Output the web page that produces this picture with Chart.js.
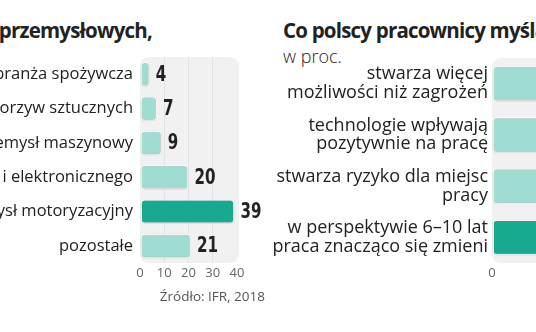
<!DOCTYPE html>
<html>
<head>
<meta charset="utf-8">
<script src="https://cdn.jsdelivr.net/npm/chart.js@4/dist/chart.umd.min.js"></script>
<style>
  html, body { margin: 0; padding: 0; background: #fff; overflow: hidden; }
  body { width: 536px; height: 332px; position: relative; font-family: "Open Sans", "Noto Sans", sans-serif; color: #222; }
  .box { position: absolute; }
  .title { position: absolute; font-weight: 700; font-size: 20.5px; white-space: nowrap; color: #222; letter-spacing: -0.8px; }
  .sub { position: absolute; font-size: 18px; font-weight: 300; color: #222; white-space: nowrap; }
  .src { position: absolute; font-size: 13.5px; color: #555; white-space: nowrap; }
</style>
</head>
<body>
<div class="title" style="right:384px; top:16px;">Roboty w zakładach przemysłowych,</div>
<div class="box" style="left:-200px; top:0;"><canvas id="robots" width="470" height="332"></canvas></div>
<div class="src" style="right:271px; top:287px;">Źródło: IFR, 2018</div>

<div class="title" style="left:283px; top:16px;">Co polscy pracownicy myślą o automatyzacji?</div>
<div class="sub" style="left:283px; top:44px;">w proc.</div>
<div class="box" style="left:270px; top:0;"><canvas id="opinions" width="560" height="332"></canvas></div>

<script>
// Robots by industry
const industries = ["branża spożywcza", "przetwórstwo tworzyw sztucznych", "przemysł maszynowy",
  "sprzęt elektrycznego i elektronicznego", "przemysł motoryzacyjny", "pozostałe"];
const robotShares = [4, 7, 9, 20, 39, 21];
const robotTicks = [0, 10, 20, 30, 40];

// Survey answers
const opinions = [["stwarza więcej", "możliwości niż zagrożeń"], ["technologie wpływają", "pozytywnie na pracę"],
  ["stwarza ryzyko dla miejsc", "pracy"], ["w perspektywie 6–10 lat", "praca znacząco się zmieni"]];
const opinionShares = [46, 44, 38, 71];

const LIGHT = "#9fdcd1";
const DARK = "#18aa90";
const BG = "#f1f1f1";

function roundRect(ctx, x, y, w, h, r) {
  ctx.beginPath();
  ctx.moveTo(x + r, y);
  ctx.lineTo(x + w - r, y);
  ctx.quadraticCurveTo(x + w, y, x + w, y + r);
  ctx.lineTo(x + w, y + h - r);
  ctx.quadraticCurveTo(x + w, y + h, x + w - r, y + h);
  ctx.lineTo(x + r, y + h);
  ctx.quadraticCurveTo(x, y + h, x, y + h - r);
  ctx.lineTo(x, y + r);
  ctx.quadraticCurveTo(x, y, x + r, y);
  ctx.closePath();
}

// gray rounded panel behind the plot area
const panel = {
  id: "panel",
  beforeDraw(chart) {
    const a = chart.chartArea, ctx = chart.ctx;
    ctx.save();
    ctx.fillStyle = BG;
    roundRect(ctx, a.left, a.top, a.right - a.left + 2, a.bottom - a.top, 10);
    ctx.fill();
    ctx.restore();
  }
};

// soft shadow under the bars
const barShadow = {
  id: "barShadow",
  beforeDatasetsDraw(chart) {
    const ctx = chart.ctx;
    ctx.save();
    ctx.shadowColor = "rgba(0,0,0,0.28)";
    ctx.shadowBlur = 2;
    ctx.shadowOffsetX = 0;
    ctx.shadowOffsetY = 0.5;
  },
  afterDatasetsDraw(chart) { chart.ctx.restore(); }
};

// value written after each bar end, in a narrow bold face
const valueLabels = {
  id: "valueLabels",
  afterDatasetsDraw(chart, args, opts) {
    if (!opts.show) return;
    const ctx = chart.ctx;
    const meta = chart.getDatasetMeta(0);
    const data = chart.data.datasets[0].data;
    const sx = 0.8;
    meta.data.forEach((bar, i) => {
      ctx.save();
      ctx.translate(bar.x + 6, bar.y + 1);
      ctx.scale(sx, 1);
      ctx.font = "bold 21px 'DejaVu Sans Condensed', 'DejaVu Sans', sans-serif";
      ctx.fillStyle = "#222";
      ctx.textAlign = "left";
      ctx.textBaseline = "middle";
      ctx.fillText(String(data[i]), 0, 0);
      ctx.restore();
    });
  }
};

function colors(values) {
  const m = Math.max(...values);
  return values.map(v => v === m ? DARK : LIGHT);
}

new Chart(document.getElementById("robots"), {
  type: "bar",
  data: {
    labels: industries,
    datasets: [{
      data: robotShares,
      backgroundColor: colors(robotShares),
      borderColor: "#ffffff",
      borderWidth: 1.5,
      borderRadius: 4,
      borderSkipped: false,
      barPercentage: 0.72,
      categoryPercentage: 1
    }]
  },
  options: {
    indexAxis: "y",
    responsive: false,
    animation: false,
    devicePixelRatio: 1,
    layout: { padding: { top: 57, right: 33, bottom: 49, left: 0 } },
    plugins: { legend: { display: false }, tooltip: { enabled: false }, valueLabels: { show: true } },
    scales: {
      x: {
        min: 0, max: 40,
        afterBuildTicks(s) { s.ticks = robotTicks.map(v => ({ value: v })); },
        border: { display: false },
        grid: { drawTicks: false, color: c => (c.tick && (c.tick.value === 0 || c.tick.value === 40)) ? "rgba(0,0,0,0)" : "#e2e2e2", lineWidth: 1 },
        ticks: { padding: 2, color: "#666", font: { family: "'Open Sans', sans-serif", size: 13 }, maxRotation: 0 },
        afterFit(s) { s.height = 20; }
      },
      y: {
        border: { display: false },
        grid: { display: false, drawTicks: false },
        ticks: { padding: 7, color: "#222", font: { family: "'Open Sans', sans-serif", size: 16.5 } },
        afterFit(s) { s.width = 340; }
      }
    }
  },
  plugins: [panel, barShadow, valueLabels]
});

new Chart(document.getElementById("opinions"), {
  type: "bar",
  data: {
    labels: opinions,
    datasets: [{
      data: opinionShares,
      backgroundColor: colors(opinionShares),
      borderColor: "#ffffff",
      borderWidth: 1.5,
      borderRadius: 4,
      borderSkipped: false,
      barPercentage: 0.7,
      categoryPercentage: 1
    }]
  },
  options: {
    indexAxis: "y",
    responsive: false,
    animation: false,
    devicePixelRatio: 1,
    layout: { padding: { top: 58, right: 10, bottom: 49, left: 0 } },
    plugins: { legend: { display: false }, tooltip: { enabled: false }, valueLabels: { show: false } },
    scales: {
      x: {
        min: 0, max: 100,
        ticks: { stepSize: 20, padding: 2, color: "#666", font: { family: "'Open Sans', sans-serif", size: 13 }, maxRotation: 0 },
        border: { display: false },
        grid: { drawTicks: false, color: c => (c.tick && (c.tick.value === 0 || c.tick.value === 100)) ? "rgba(0,0,0,0)" : "#e2e2e2" },
        afterFit(s) { s.height = 20; }
      },
      y: {
        border: { display: false },
        grid: { display: false, drawTicks: false },
        ticks: { padding: 4, color: "#222", font: { family: "'Open Sans', sans-serif", size: 18, lineHeight: 1.05 } },
        afterFit(s) { s.width = 222; }
      }
    }
  },
  plugins: [panel, barShadow]
});
</script>
</body>
</html>
